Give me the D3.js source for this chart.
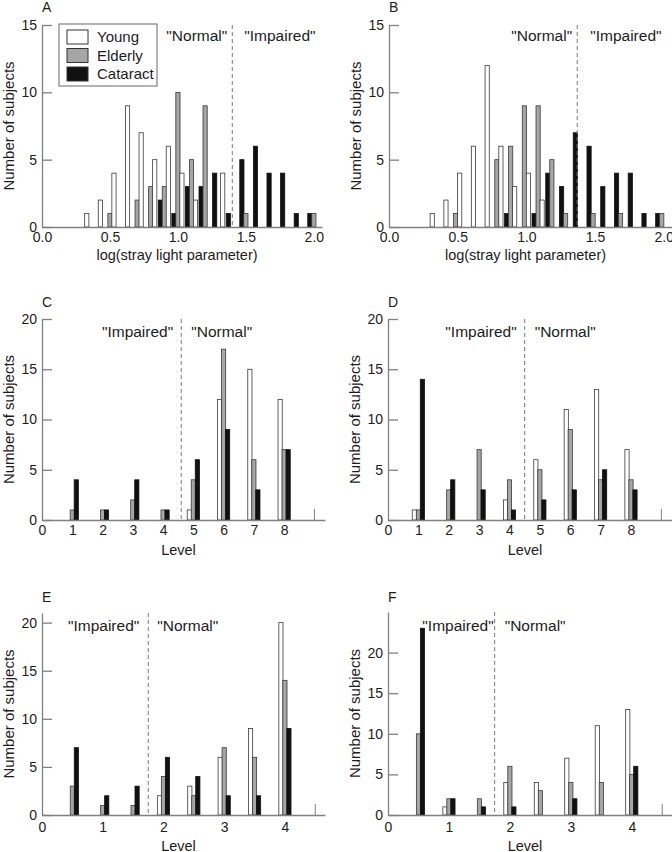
<!DOCTYPE html>
<html><head><meta charset="utf-8">
<script src="https://cdn.jsdelivr.net/npm/d3@7"></script>
<style>
body{margin:0;background:#fff}
text{font-family:"Liberation Sans",Arial,sans-serif;fill:#1c1c1c}
</style>
</head><body>
<svg id="chart" width="672" height="852"></svg>
<script>
// ---------- DATA ----------
const seriesNames = ["Young", "Elderly", "Cataract"];

// Panels A and B: log(stray light parameter) bins
const binsAB = [0.3,0.4,0.5,0.6,0.7,0.8,0.9,1.0,1.1,1.2,1.3,1.4,1.5,1.6,1.7,1.8,1.9,2.0];
const youngA    = [1,2,4,9,7,5,6,4,2,0,4,0,0,0,0,0,0,0];
const elderlyA  = [0,0,1,0,2,3,3,10,5,9,0,0,1,0,0,0,0,1];
const cataractA = [0,0,0,0,0,0,2,1,3,3,4,1,5,6,4,4,1,1];

const youngB    = [1,2,4,6,12,6,3,4,2,0,0,0,0,0,0,0,0,0];
const elderlyB  = [0,0,1,0,0,5,6,9,9,5,1,0,1,0,1,0,0,1];
const cataractB = [0,0,0,0,0,0,1,0,1,4,3,7,6,3,4,4,1,1];

// Panels C and D: levels 1-8
const levelsCD = [1,2,3,4,5,6,7,8];
const youngC    = [0,0,0,0,1,12,15,12];
const elderlyC  = [1,1,2,1,4,17,6,7];
const cataractC = [4,1,4,1,6,9,3,7];

const youngD    = [1,0,0,2,6,11,13,7];
const elderlyD  = [1,3,7,4,5,9,4,4];
const cataractD = [14,4,3,1,2,3,5,3];

// Panels E and F: half levels
const levelsEF = [0.5,1,1.5,2,2.5,3,3.5,4];
const youngE    = [0,0,0,2,3,6,9,20];
const elderlyE  = [3,1,1,4,2,7,6,14];
const cataractE = [7,2,3,6,4,2,2,9];

const youngF    = [0,1,0,4,4,7,11,13];
const elderlyF  = [10,2,2,6,3,4,4,5];
const cataractF = [23,2,1,1,0,2,0,6];

// Tick labels
const xTicksAB = [0,0.5,1,1.5,2];
const xTicksCD = [0,1,2,3,4,5,6,7,8];
const xTicksEF = [0,1,2,3,4];
const yTicksAB = [0,5,10,15];
const yTicksCF = [0,5,10,15,20];

// Cut-off values (dashed lines)
const cutA = 1.4, cutB = 1.37, cutC = 4.6, cutD = 4.5, cutE = 1.75, cutF = 1.75;

// ---------- STYLE / LAYOUT ----------
const fills   = {Young:"#ffffff", Elderly:"#a6a6a6", Cataract:"#111111"};
const strokes = {Young:"#3a3a3a", Elderly:"#3a3a3a", Cataract:"#111111"};
const axisColor = "#808080";
const barW = 4.2;

const panels = [
  {letter:"A", cats:binsAB, data:{Young:youngA, Elderly:elderlyA, Cataract:cataractA},
   order:["Cataract","Elderly","Young"], offsets:[-4,0,4],
   xDomain:[0,2.06], xRange:[42,322], yDomain:[0,15], yRange:[227,25],
   xTicks:xTicksAB, fmt:d3.format(".1f"), yTicks:yTicksAB, xPad:5,
   cut:cutA, left:'"Normal"', right:'"Impaired"', gapL:5, gapR:12, annY:41,
   xTitle:"log(stray light parameter)", xTitleY:260, letterY:12, legend:true},
  {letter:"B", cats:binsAB, data:{Young:youngB, Elderly:elderlyB, Cataract:cataractB},
   order:["Cataract","Elderly","Young"], offsets:[-6,-2,2],
   xDomain:[0,2.06], xRange:[389,672], yDomain:[0,15], yRange:[227,25],
   xTicks:xTicksAB, fmt:d3.format(".1f"), yTicks:yTicksAB, xPad:5,
   cut:cutB, left:'"Normal"', right:'"Impaired"', gapL:5, gapR:13, annY:41,
   xTitle:"log(stray light parameter)", xTitleY:260, letterY:12},
  {letter:"C", cats:levelsCD, data:{Young:youngC, Elderly:elderlyC, Cataract:cataractC},
   order:["Young","Elderly","Cataract"], offsets:[-4,0,4],
   xDomain:[0,9.35], xRange:[42,325], yDomain:[0,20], yRange:[520,319],
   xTicks:xTicksCD, fmt:d3.format("d"), yTicks:yTicksCF, xPad:5, endMark:9,
   cut:cutC, left:'"Impaired"', right:'"Normal"', gapL:8, gapR:10, annY:337,
   xTitle:"Level", xTitleY:555, letterY:307},
  {letter:"D", cats:levelsCD, data:{Young:youngD, Elderly:elderlyD, Cataract:cataractD},
   order:["Young","Elderly","Cataract"], offsets:[-4,0,4],
   xDomain:[0,9.35], xRange:[388,672], yDomain:[0,20], yRange:[520,319],
   xTicks:xTicksCD, fmt:d3.format("d"), yTicks:yTicksCF, xPad:5, endMark:9,
   cut:cutD, left:'"Impaired"', right:'"Normal"', gapL:8, gapR:10, annY:337,
   xTitle:"Level", xTitleY:555, letterY:307},
  {letter:"E", cats:levelsEF, data:{Young:youngE, Elderly:elderlyE, Cataract:cataractE},
   order:["Young","Elderly","Cataract"], offsets:[-4,0,4],
   xDomain:[0,4.66], xRange:[42,325], yDomain:[0,21], yRange:[815,613],
   xTicks:xTicksEF, fmt:d3.format("d"), yTicks:yTicksCF, xPad:7, endMark:4.5,
   cut:cutE, left:'"Impaired"', right:'"Normal"', gapL:9, gapR:9, annY:631,
   xTitle:"Level", xTitleY:851, letterY:602},
  {letter:"F", cats:levelsEF, data:{Young:youngF, Elderly:elderlyF, Cataract:cataractF},
   order:["Young","Elderly","Cataract"], offsets:[-4,0,4],
   xDomain:[0,4.66], xRange:[388,672], yDomain:[0,25], yRange:[815,612],
   xTicks:xTicksEF, fmt:d3.format("d"), yTicks:yTicksCF, xPad:7, endMark:4.5,
   cut:cutF, left:'"Impaired"', right:'"Normal"', gapL:1, gapR:10, annY:631,
   xTitle:"Level", xTitleY:851, letterY:602}
];

const svg = d3.select("#chart");

panels.forEach(p => {
  const x = d3.scaleLinear().domain(p.xDomain).range(p.xRange);
  const y = d3.scaleLinear().domain(p.yDomain).range(p.yRange);
  const g = svg.append("g");

  // bars
  p.order.forEach((s, i) => {
    const rows = p.cats.map((c, j) => ({c, v: p.data[s][j]})).filter(d => d.v > 0);
    g.append("g").selectAll("rect").data(rows).join("rect")
      .attr("x", d => x(d.c) + p.offsets[i] - barW / 2)
      .attr("y", d => y(d.v))
      .attr("width", barW)
      .attr("height", d => y(0) - y(d.v))
      .attr("fill", fills[s])
      .attr("stroke", strokes[s])
      .attr("stroke-width", 0.8);
  });

  // y axis
  const ya = g.append("g").attr("transform", `translate(${p.xRange[0]},0)`)
    .call(d3.axisLeft(y).tickValues(p.yTicks).tickSize(-10).tickSizeOuter(0).tickPadding(5).tickFormat(d3.format("d")));
  ya.select(".domain").attr("stroke", axisColor).attr("stroke-width", 1.3);
  ya.selectAll(".tick line").attr("stroke", axisColor).attr("stroke-width", 1.3);
  ya.selectAll(".tick text").style("font-size", "14px").attr("fill", "#1c1c1c")
    .style("font-family", '"Liberation Sans",Arial,sans-serif');

  // x axis
  const xa = g.append("g").attr("transform", `translate(0,${y(0)})`)
    .call(d3.axisBottom(x).tickValues(p.xTicks).tickSize(0).tickSizeOuter(0).tickPadding(p.xPad).tickFormat(p.fmt));
  xa.select(".domain").attr("stroke", axisColor).attr("stroke-width", 1.3);
  xa.selectAll(".tick text").style("font-size", "14px").attr("fill", "#1c1c1c")
    .style("font-family", '"Liberation Sans",Arial,sans-serif');

  // end marker
  if (p.endMark !== undefined) {
    g.append("line").attr("x1", x(p.endMark)).attr("x2", x(p.endMark))
      .attr("y1", y(0)).attr("y2", y(0) - 11)
      .attr("stroke", axisColor).attr("stroke-width", 1);
  }

  // dashed cut line
  g.append("line").attr("x1", x(p.cut)).attr("x2", x(p.cut))
    .attr("y1", y(p.yDomain[1])).attr("y2", y(0))
    .attr("stroke", "#7a7a7a").attr("stroke-width", 1).attr("stroke-dasharray", "4,3");

  // annotations
  g.append("text").attr("x", x(p.cut) - p.gapL).attr("y", p.annY)
    .attr("text-anchor", "end").style("font-size", "15.5px").text(p.left);
  g.append("text").attr("x", x(p.cut) + p.gapR).attr("y", p.annY)
    .attr("text-anchor", "start").style("font-size", "15.5px").text(p.right);

  // titles
  const ymid = (p.yRange[0] + p.yRange[1]) / 2;
  g.append("text").attr("transform", `translate(${p.xRange[0] - 28},${ymid}) rotate(-90)`)
    .attr("text-anchor", "middle").style("font-size", "15px").text("Number of subjects");
  g.append("text").attr("x", (p.xRange[0] + p.xRange[1]) / 2 - 5).attr("y", p.xTitleY)
    .attr("text-anchor", "middle").style("font-size", "14.5px").text(p.xTitle);
  g.append("text").attr("x", p.xRange[0]).attr("y", p.letterY)
    .style("font-size", "14px").text(p.letter);

  // legend
  if (p.legend) {
    const lg = g.append("g").attr("transform", "translate(59,24)");
    lg.append("rect").attr("width", 98).attr("height", 62)
      .attr("fill", "#fff").attr("stroke", axisColor).attr("stroke-width", 1.2);
    seriesNames.forEach((s, i) => {
      lg.append("rect").attr("x", 8).attr("y", 6 + i * 18.5).attr("width", 21).attr("height", 14)
        .attr("fill", fills[s]).attr("stroke", "#333").attr("stroke-width", 1);
      lg.append("text").attr("x", 38).attr("y", 18 + i * 18.5)
        .style("font-size", "15px").text(s);
    });
  }
});
</script>
</body></html>
